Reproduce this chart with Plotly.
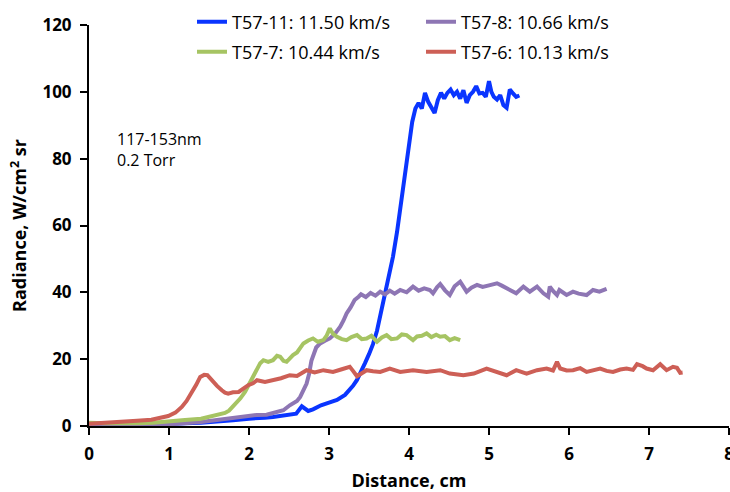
import plotly.graph_objects as go

# Radiance profiles (117-153 nm band, 0.2 Torr) vs distance along the shock tube
blue_x = [0.0, 0.2, 0.4, 0.6, 0.8, 1.0, 1.2, 1.4, 1.6, 1.8, 2.0, 2.1, 2.2, 2.3, 2.4, 2.5, 2.59,
          2.66, 2.7, 2.74, 2.8, 2.9, 3.0, 3.1, 3.2, 3.25, 3.3, 3.35, 3.4, 3.45, 3.5, 3.55, 3.6,
          3.65, 3.7, 3.75, 3.8, 3.85, 3.9, 3.95, 4.0, 4.04, 4.08, 4.12, 4.16, 4.2, 4.24, 4.28,
          4.32, 4.36, 4.4, 4.44, 4.48, 4.52, 4.56, 4.6, 4.64, 4.68, 4.72, 4.76, 4.8, 4.84, 4.88,
          4.92, 4.96, 5.0, 5.03, 5.06, 5.1, 5.14, 5.18, 5.22, 5.26, 5.3, 5.34, 5.38]
blue_y = [0.3, 0.2, 0.3, 0.2, 0.4, 0.5, 0.8, 1.0, 1.3, 1.7, 2.2, 2.2, 2.5, 2.7, 3.0, 3.3, 3.7,
          5.9, 5.2, 4.5, 5.0, 6.2, 7.0, 7.8, 9.3, 10.5, 12.0, 13.8, 16.0, 18.8, 21.5, 24.5, 28.5,
          34.0, 40.0, 45.0, 50.7, 58.0, 66.5, 75.0, 83.0, 91.0, 95.0, 96.7, 95.0, 99.7, 97.0, 95.5,
          93.7, 97.5, 99.7, 98.0, 99.7, 100.7, 99.0, 100.0, 98.0, 100.5, 96.7, 99.0, 100.0, 101.7,
          99.5, 99.7, 98.5, 103.2, 100.0, 98.5, 97.7, 99.0, 96.0, 95.2, 100.7, 99.5, 98.5, 98.9]

purple_x = [0.0, 0.4, 0.8, 1.0, 1.2, 1.4, 1.6, 1.8, 1.9, 2.0, 2.1, 2.22, 2.3, 2.43, 2.51, 2.6,
            2.64, 2.68, 2.72, 2.75, 2.78, 2.84, 2.89, 2.95, 3.01, 3.08, 3.14, 3.18, 3.22, 3.27,
            3.32, 3.37, 3.4, 3.46, 3.52, 3.58, 3.64, 3.7, 3.76, 3.82, 3.89, 3.97, 4.05, 4.12, 4.19,
            4.26, 4.3, 4.35, 4.39, 4.45, 4.51, 4.57, 4.64, 4.72, 4.78, 4.85, 4.92, 5.0, 5.1, 5.16,
            5.22, 5.28, 5.34, 5.43, 5.51, 5.6, 5.68, 5.74, 5.76, 5.8, 5.85, 5.88, 5.93, 5.97,
            6.05, 6.12, 6.22, 6.3, 6.38, 6.47]
purple_y = [0.3, 0.2, 0.4, 0.5, 0.8, 1.2, 1.8, 2.4, 3.0, 3.0, 3.3, 3.4, 4.0, 4.7, 6.2, 7.5,
            8.7, 10.5, 12.7, 15.5, 19.5, 23.5, 24.7, 25.5, 26.2, 27.8, 29.7, 31.5, 33.7, 35.5,
            37.7, 38.7, 39.4, 38.6, 39.8, 39.0, 40.2, 39.4, 40.5, 39.6, 40.7, 40.0, 41.7, 40.5,
            41.2, 40.7, 39.7, 41.5, 42.5, 40.6, 39.2, 41.8, 43.2, 40.2, 41.4, 42.2, 41.6, 42.1,
            42.7, 42.0, 41.2, 40.5, 39.7, 41.7, 40.2, 41.7, 39.7, 38.7, 41.7, 40.4, 39.2, 40.7,
            39.9, 39.2, 40.2, 39.6, 39.2, 40.7, 40.2, 41.0]

green_x = [0.0, 0.2, 0.4, 0.6, 0.8, 1.0, 1.2, 1.4, 1.6, 1.7, 1.75, 1.82, 1.89, 1.95, 2.0,
           2.05, 2.1, 2.14, 2.18, 2.24, 2.3, 2.35, 2.39, 2.43, 2.47, 2.51, 2.55, 2.6, 2.64, 2.68,
           2.74, 2.8, 2.86, 2.93, 2.97, 3.01, 3.05, 3.1, 3.16, 3.22, 3.28, 3.35, 3.41, 3.47,
           3.53, 3.6, 3.66, 3.72, 3.78, 3.85, 3.91, 3.97, 4.05, 4.1, 4.16, 4.22, 4.28, 4.34,
           4.39, 4.45, 4.51, 4.57, 4.64]
green_y = [1.0, 0.8, 0.9, 0.8, 1.0, 1.3, 1.8, 2.2, 3.2, 3.9, 4.6, 6.2, 8.2, 10.2, 12.5,
           14.7, 17.2, 18.8, 19.7, 19.2, 19.7, 21.0, 20.7, 19.5, 19.2, 20.2, 21.2, 22.0, 23.5,
           24.7, 25.6, 26.2, 25.2, 25.7, 27.0, 29.2, 27.6, 26.7, 26.0, 25.7, 26.6, 27.2, 26.0,
           26.2, 27.0, 25.2, 26.5, 27.2, 26.0, 26.2, 27.4, 27.2, 25.7, 26.8, 27.0, 27.7, 26.6,
           27.3, 26.7, 26.9, 25.7, 26.3, 25.7]

red_x = [0.0, 0.15, 0.37, 0.6, 0.78, 0.9, 0.99, 1.08, 1.16, 1.22, 1.28, 1.34, 1.39, 1.44,
         1.48, 1.52, 1.55, 1.6, 1.66, 1.7, 1.74, 1.8, 1.87, 1.93, 1.99, 2.05, 2.1, 2.2, 2.3,
         2.4, 2.51, 2.6, 2.72, 2.82, 2.93, 3.05, 3.15, 3.26, 3.3, 3.35, 3.41, 3.47, 3.55, 3.64,
         3.76, 3.89, 4.05, 4.22, 4.39, 4.51, 4.68, 4.81, 4.97, 5.1, 5.22, 5.34, 5.47, 5.6, 5.72,
         5.8, 5.85, 5.89, 5.97, 6.05, 6.14, 6.22, 6.3, 6.39, 6.47, 6.55, 6.64, 6.72, 6.8, 6.85,
         6.92, 6.97, 7.05, 7.1, 7.14, 7.22, 7.3, 7.35, 7.39, 7.42]
red_y = [0.7, 1.0, 1.2, 1.6, 1.9, 2.4, 3.0, 4.0, 5.7, 7.5, 9.7, 12.3, 14.7, 15.3, 15.2,
         14.0, 13.2, 12.0, 10.7, 10.0, 9.7, 10.1, 10.2, 11.2, 12.2, 12.8, 13.7, 13.2, 13.7,
         14.3, 15.2, 15.0, 16.7, 16.0, 16.7, 16.2, 16.9, 17.7, 16.5, 14.9, 15.8, 16.7, 16.4,
         16.2, 17.2, 16.2, 16.7, 16.2, 16.7, 15.7, 15.2, 15.7, 17.2, 16.2, 15.2, 16.7, 15.7,
         16.7, 17.2, 16.6, 19.2, 17.2, 16.6, 16.7, 17.3, 16.2, 16.8, 17.2, 16.5, 16.2, 16.9,
         17.2, 16.8, 18.5, 17.9, 17.2, 16.7, 17.6, 18.5, 16.7, 17.7, 17.4, 15.9, 16.0]

series = [
    ("T57-11: 11.50 km/s", blue_x, blue_y, "#0a35ff", "legend"),
    ("T57-8: 10.66 km/s", purple_x, purple_y, "#8e76b4", "legend"),
    ("T57-7: 10.44 km/s", green_x, green_y, "#a6c463", "legend2"),
    ("T57-6: 10.13 km/s", red_x, red_y, "#cd5f56", "legend2"),
]

fig = go.Figure()
for name, xs, ys, color, leg in series:
    fig.add_trace(go.Scatter(x=xs, y=ys, mode="lines", name=name, legend=leg,
                             line=dict(color=color, width=4)))

FONT = "'Open Sans', Lato, sans-serif"
legend_style = dict(orientation="h", xref="container", yref="container",
                    xanchor="left", yanchor="middle", x=192 / 730,
                    font=dict(family=FONT, size=18, color="#000"),
                    bgcolor="rgba(0,0,0,0)", entrywidth=184, entrywidthmode="pixels",
                    itemwidth=30, tracegroupgap=0)

fig.update_layout(
    width=730, height=492,
    margin=dict(l=89, r=1, t=25, b=66, autoexpand=False),
    paper_bgcolor="white", plot_bgcolor="white",
    font=dict(family=FONT, color="#000"),
    legend=dict(legend_style, y=1 - 22 / 492),
    legend2=dict(legend_style, y=1 - 52 / 492),
    xaxis=dict(range=[0, 8], dtick=1, showgrid=False, zeroline=False,
               showline=True, linecolor="#000", linewidth=2,
               ticks="outside", ticklen=7, tickwidth=2, tickcolor="#000",
               ticklabeloverflow="allow", ticklabelstandoff=5,
               tickfont=dict(family=FONT, size=17, weight="bold"),
               title=dict(text="Distance, cm", standoff=10,
                          font=dict(family=FONT, size=18, weight="bold"))),
    yaxis=dict(range=[0, 120], dtick=20, showgrid=False, zeroline=False,
               showline=True, linecolor="#000", linewidth=2,
               ticks="outside", ticklen=7, tickwidth=2, tickcolor="#000",
               ticklabelstandoff=5,
               tickfont=dict(family=FONT, size=17, weight="bold"),
               title=dict(text="Radiance, W/cm<sup>2</sup> sr", standoff=11,
                          font=dict(family=FONT, size=18, weight="bold"))),
    annotations=[dict(text="117-153nm<br>0.2 Torr", xref="paper", yref="paper",
                      x=(115 - 89) / 640, y=(426 - 126) / 401, xanchor="left", yanchor="top",
                      align="left", showarrow=False,
                      font=dict(family=FONT, size=16, color="#000"))],
)

fig.write_html("out.html")
